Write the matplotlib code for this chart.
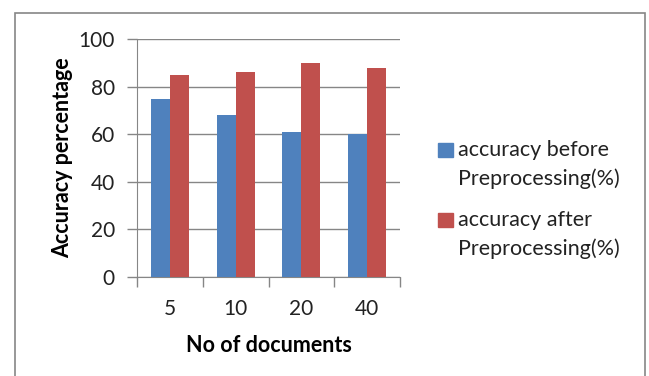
import numpy as np
import matplotlib.pyplot as plt
from matplotlib.patches import Rectangle

plt.rcParams['font.family'] = ['Lato', 'DejaVu Sans']

docs = ['5', '10', '20', '40']
acc_before = [75, 68, 61, 60]
acc_after = [85, 86, 90, 88]
series_labels = [['accuracy before', 'Preprocessing(%)'],
                 ['accuracy after', 'Preprocessing(%)']]

blue = '#4F81BD'
red = '#C0504D'
grey = '#868686'

W, H = 649, 376
fig = plt.figure(figsize=(W / 100, H / 100), dpi=100)
ax = fig.add_axes([137 / W, 1 - 277 / H, 263 / W, 238 / H])

# outer chart frame
fig.patches.append(Rectangle((15 / W, -0.1), 630 / W, 1.1 - 13 / H,
                             transform=fig.transFigure, fill=False,
                             edgecolor=grey, linewidth=1.2))

x = np.arange(len(docs))
w = 0.29
ax.bar(x - w / 2, acc_before, w, color=blue, zorder=3)
ax.bar(x + w / 2, acc_after, w, color=red, zorder=3)

ax.set_xlim(-0.5, len(docs) - 0.5)
ax.set_ylim(0, 100)
ax.set_yticks(range(0, 101, 20))
ax.yaxis.grid(True, color=grey, linewidth=1, zorder=0)

ax.set_xticks(x)
ax.set_xticklabels(docs)
ax.set_xticks(np.arange(-0.5, len(docs)), minor=True)
ax.tick_params(axis='x', which='major', length=0, pad=16, labelsize=15, colors='#222222')
ax.tick_params(axis='x', which='minor', length=7, color=grey, width=1)
ax.tick_params(axis='y', length=7, color=grey, width=1, pad=9, labelsize=15, labelcolor='#222222')

for s in ['top', 'right']:
    ax.spines[s].set_visible(False)
for s in ['left', 'bottom']:
    ax.spines[s].set_color(grey)

ax.set_xlabel('No of documents', fontsize=15.5, fontweight='bold', labelpad=11)
ax.set_ylabel('Accuracy percentage', fontsize=15.5, fontweight='bold', labelpad=4)

# legend: square key beside the first line of each two-line label
for lines, col, ytop in zip(series_labels, [blue, red], [150, 220]):
    fig.patches.append(Rectangle((438 / W, 1 - (ytop + 7) / H), 15 / W, 14 / H,
                                 transform=fig.transFigure, color=col))
    for i, line in enumerate(lines):
        fig.text(458 / W, 1 - (ytop + 29 * i) / H, line, fontsize=15.5,
                 va='center', ha='left', color='#222222')

fig.savefig('out.png', dpi=100)
